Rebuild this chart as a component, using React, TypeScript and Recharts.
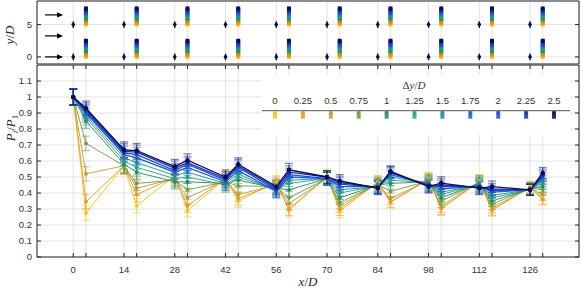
import React from "react";
import {
  CartesianGrid,
  ComposedChart,
  ErrorBar,
  Legend,
  Line,
  ReferenceArea,
  ReferenceLine,
  Scatter,
  XAxis,
  YAxis,
} from "recharts";

// measurement stations (turbine rows and the probe rakes behind them)
const X_POSITIONS = [0, 3.5, 14, 17.5, 28, 31.5, 42, 45.5, 56, 59.5, 70, 73.5, 84, 87.5, 98, 101.5, 112, 115.5, 126, 129.5];
const TURBINE_X = [0, 14, 28, 42, 56, 70, 84, 98, 112, 126];
const PROBE_X = [3.5, 17.5, 31.5, 45.5, 59.5, 73.5, 87.5, 101.5, 115.5, 129.5];
const TURBINE_ROWS = [0, 5];
const ARROW_ROWS = [0, 3.25, 6.5];
const ARROW_SPAN = [-7.8, -2.8];

const P_TICKS = [0, 0.1, 0.2, 0.3, 0.4, 0.5, 0.6, 0.7, 0.8, 0.9, 1, 1.1];
const YD_TICKS = [0, 5];

const DY_VALUES = [0, 0.25, 0.5, 0.75, 1, 1.25, 1.5, 1.75, 2, 2.25, 2.5];
const DY_LABELS = ["0", "0.25", "0.5", "0.75", "1", "1.25", "1.5", "1.75", "2", "2.25", "2.5"];
const DY_COLORS = [
  "#efc90a",
  "#f7901e",
  "#bc9a3a",
  "#6e9a3c",
  "#218c4f",
  "#23a082",
  "#1c87a6",
  "#1662c6",
  "#1c46dc",
  "#1a2bb8",
  "#0c0c4e",
];

// P_i / P_1 for each offset, one value per station
const P_DY0 = [1, 0.275, 0.57, 0.32, 0.51, 0.29, 0.49, 0.35, 0.47, 0.29, 0.51, 0.285, 0.47, 0.34, 0.49, 0.3, 0.475, 0.29, 0.44, 0.37];
const P_DY025 = [1, 0.345, 0.57, 0.39, 0.5, 0.32, 0.49, 0.365, 0.46, 0.3, 0.5, 0.3, 0.465, 0.345, 0.485, 0.305, 0.47, 0.295, 0.435, 0.36];
const P_DY05 = [1, 0.52, 0.57, 0.43, 0.49, 0.37, 0.48, 0.39, 0.45, 0.335, 0.49, 0.32, 0.46, 0.365, 0.48, 0.32, 0.47, 0.31, 0.43, 0.39];
const P_DY075 = [1, 0.71, 0.57, 0.46, 0.48, 0.42, 0.47, 0.445, 0.44, 0.37, 0.49, 0.34, 0.455, 0.41, 0.475, 0.35, 0.465, 0.33, 0.43, 0.42];
const P_DY1 = [1, 0.85, 0.58, 0.53, 0.47, 0.47, 0.46, 0.48, 0.43, 0.42, 0.49, 0.37, 0.45, 0.46, 0.47, 0.37, 0.46, 0.35, 0.425, 0.44];
const P_DY125 = [1, 0.87, 0.6, 0.56, 0.49, 0.5, 0.45, 0.5, 0.42, 0.46, 0.49, 0.4, 0.445, 0.48, 0.465, 0.39, 0.455, 0.37, 0.42, 0.46];
const P_DY15 = [1, 0.885, 0.62, 0.59, 0.51, 0.53, 0.46, 0.52, 0.41, 0.48, 0.49, 0.42, 0.44, 0.5, 0.46, 0.405, 0.45, 0.385, 0.42, 0.475];
const P_DY175 = [1, 0.9, 0.64, 0.62, 0.53, 0.56, 0.47, 0.54, 0.41, 0.5, 0.49, 0.44, 0.44, 0.515, 0.455, 0.425, 0.445, 0.405, 0.42, 0.49];
const P_DY2 = [1, 0.91, 0.65, 0.64, 0.54, 0.58, 0.48, 0.56, 0.42, 0.515, 0.49, 0.455, 0.435, 0.525, 0.45, 0.44, 0.44, 0.415, 0.42, 0.505];
const P_DY225 = [1, 0.92, 0.66, 0.655, 0.555, 0.59, 0.49, 0.57, 0.43, 0.53, 0.5, 0.465, 0.435, 0.53, 0.445, 0.45, 0.435, 0.425, 0.42, 0.515];
const P_DY25 = [1, 0.93, 0.67, 0.665, 0.565, 0.605, 0.5, 0.58, 0.44, 0.545, 0.5, 0.475, 0.43, 0.535, 0.44, 0.462, 0.43, 0.44, 0.42, 0.525];
const SERIES = [P_DY0, P_DY025, P_DY05, P_DY075, P_DY1, P_DY125, P_DY15, P_DY175, P_DY2, P_DY225, P_DY25];

// error bar half-length per station
const P_ERR = [0.05, 0.045, 0.05, 0.045, 0.045, 0.04, 0.045, 0.04, 0.04, 0.04, 0.04, 0.04, 0.04, 0.035, 0.04, 0.04, 0.04, 0.035, 0.035, 0.035];

const AXIS = "#262626";
const GRID = "#e3e3e3";
const FONT = "'Liberation Sans', Arial, sans-serif";
const SERIF = "'Liberation Serif', 'DejaVu Serif', serif";

const W = 581;
const LEFT = 37;
const RIGHT = 579;
const MAIN_TOP = 65;
const MAIN_BOTTOM = 257;
const TOP_TOP = 1;
const TOP_BOTTOM = 64;
const TICK = 4;

const rows = X_POSITIONS.map((x, j) => {
  const r: Record<string, number> = { x, err: P_ERR[j] };
  SERIES.forEach((s, i) => {
    r[`s${i}`] = s[j];
  });
  return r;
});

const turbineData = TURBINE_X.flatMap((x) => TURBINE_ROWS.map((y) => ({ x, y })));
const probeData = PROBE_X.flatMap((x) =>
  TURBINE_ROWS.flatMap((row) => DY_VALUES.map((dy, i) => ({ x, y: row + dy, c: DY_COLORS[i] })))
);

function mainXTick(props: any) {
  const { x, payload } = props;
  const v = payload.value;
  return (
    <g>
      <line x1={x} x2={x} y1={MAIN_BOTTOM} y2={MAIN_BOTTOM - TICK} stroke={AXIS} />
      <line x1={x} x2={x} y1={MAIN_TOP} y2={MAIN_TOP + TICK} stroke={AXIS} />
      {TURBINE_X.includes(v) && (
        <text x={x} y={272.5} textAnchor="middle" fontFamily={FONT} fontSize={9.5} fill="#333">
          {v}
        </text>
      )}
    </g>
  );
}

function mainYTick(props: any) {
  const { y, payload } = props;
  return (
    <g>
      <line x1={LEFT} x2={LEFT + TICK} y1={y} y2={y} stroke={AXIS} />
      <line x1={RIGHT} x2={RIGHT - TICK} y1={y} y2={y} stroke={AXIS} />
      <text x={LEFT - 5} y={y} dy="0.35em" textAnchor="end" fontFamily={FONT} fontSize={9.5} fill="#333">
        {String(payload.value)}
      </text>
    </g>
  );
}

function topXTick(props: any) {
  const { x } = props;
  return (
    <g>
      <line x1={x} x2={x} y1={TOP_TOP} y2={TOP_TOP + TICK} stroke={AXIS} />
      <line x1={x} x2={x} y1={TOP_BOTTOM} y2={TOP_BOTTOM - TICK} stroke={AXIS} />
    </g>
  );
}

function topYTick(props: any) {
  const { y, payload } = props;
  return (
    <g>
      <line x1={LEFT} x2={LEFT + TICK} y1={y} y2={y} stroke={AXIS} />
      <line x1={RIGHT} x2={RIGHT - TICK} y1={y} y2={y} stroke={AXIS} />
      <text x={LEFT - 5} y={y} dy="0.35em" textAnchor="end" fontFamily={FONT} fontSize={9.5} fill="#333">
        {String(payload.value)}
      </text>
    </g>
  );
}

function arrowShape(props: any) {
  const { x1, y1, x2, y2 } = props;
  return (
    <g>
      <line x1={x1} y1={y1} x2={x2 - 4} y2={y2} stroke="#000" strokeWidth={1.2} />
      <polygon points={`${x2},${y2} ${x2 - 6},${y2 - 2.6} ${x2 - 6},${y2 + 2.6}`} fill="#000" />
    </g>
  );
}

function turbineShape(props: any) {
  const { cx, cy } = props;
  return (
    <g>
      <line x1={cx} x2={cx} y1={cy - 3.3} y2={cy + 3.3} stroke="#0c0c4e" strokeWidth={1.4} />
      <circle cx={cx} cy={cy} r={1.8} fill="#0c0c4e" />
    </g>
  );
}

function probeShape(props: any) {
  const { cx, cy, payload } = props;
  return <rect x={cx - 2} y={cy - 2} width={4} height={4} fill={payload.c} />;
}

function DyLegend() {
  const step = 27.9;
  return (
    <svg width={308} height={60} style={{ display: "block" }}>
      <rect x={0} y={0} width={308} height={60} fill="#fff" />
      <text x={152} y={13.5} textAnchor="middle" fontFamily={SERIF} fontSize={11} fill="#333">
        Δ<tspan fontStyle="italic">y</tspan>/<tspan fontStyle="italic">D</tspan>
      </text>
      {DY_LABELS.map((l, i) => (
        <text key={l} x={13 + i * step} y={29.4} textAnchor="middle" fontFamily={FONT} fontSize={9.5} fill="#333">
          {l}
        </text>
      ))}
      <line x1={0} x2={308} y1={35.7} y2={35.7} stroke="#555" strokeWidth={1} />
      {DY_COLORS.map((c, i) => (
        <g key={c}>
          <rect x={11 + i * step} y={36.2} width={4} height={7.5} fill={c} opacity={0.85} />
          <line x1={13 + i * step} x2={13 + i * step} y1={36.2} y2={40} stroke={c} strokeWidth={1.5} />
        </g>
      ))}
    </svg>
  );
}

export default function App() {
  return (
    <div style={{ position: "absolute", left: 0, top: 0, width: W, height: 290, background: "#fff" }}>
      <div style={{ position: "absolute", left: 0, top: 0 }}>
        <ComposedChart width={W} height={290} data={rows} margin={{ top: MAIN_TOP, right: W - RIGHT, bottom: 0, left: 0 }}>
          <CartesianGrid stroke={GRID} />
          <XAxis
            type="number"
            dataKey="x"
            domain={[-10, 139.5]}
            ticks={X_POSITIONS}
            interval={0}
            height={290 - MAIN_BOTTOM}
            axisLine={false}
            tickLine={false}
            tick={mainXTick}
            allowDataOverflow
          />
          <YAxis
            type="number"
            domain={[0, 1.2]}
            ticks={P_TICKS}
            interval={0}
            width={LEFT}
            axisLine={false}
            tickLine={false}
            tick={mainYTick}
          />
          {SERIES.map((_, i) => (
            <Line
              key={i}
              type="linear"
              dataKey={`s${i}`}
              stroke={DY_COLORS[i]}
              strokeWidth={i >= 7 ? 1.3 : 0.9}
              dot={{ r: i >= 9 ? 2.3 : 1.9, fill: DY_COLORS[i], stroke: DY_COLORS[i], strokeWidth: 0 }}
              activeDot={false}
              isAnimationActive={false}
            >
              <ErrorBar
                dataKey="err"
                direction="y"
                width={4}
                stroke={DY_COLORS[i]}
                strokeWidth={1.2}
                strokeOpacity={0.5}
              />
            </Line>
          ))}
          <ReferenceArea x1={-10} x2={139.5} y1={0} y2={1.2} fill="none" stroke={AXIS} strokeWidth={1} ifOverflow="visible" />
          <Legend
            layout="horizontal"
            verticalAlign="middle"
            align="center"
            content={() => <DyLegend />}
            wrapperStyle={{ left: 262, top: 75, width: 308, height: 60 }}
          />
        </ComposedChart>
      </div>
      <svg width={W} height={290} style={{ position: "absolute", left: 0, top: 0, pointerEvents: "none" }}>
        <text transform="translate(15,128) rotate(-90)" textAnchor="middle" fontFamily={SERIF} fontStyle="italic" fontSize={13} fill="#262626">
          P<tspan fontSize={9} dy={3}>i</tspan>
          <tspan dy={-3} fontStyle="normal">/</tspan>P<tspan fontSize={9} dy={3} fontStyle="normal">1</tspan>
        </text>
        <text transform="translate(14,35) rotate(-90)" textAnchor="middle" fontFamily={SERIF} fontStyle="italic" fontSize={13} fill="#262626">
          y<tspan fontStyle="normal">/</tspan>D
        </text>
        <text x={308} y={286} textAnchor="middle" fontFamily={SERIF} fontStyle="italic" fontSize={13} fill="#262626">
          x<tspan fontStyle="normal">/</tspan>D
        </text>
      </svg>
      <div style={{ position: "absolute", left: 0, top: 0 }}>
        <ComposedChart width={W} height={66} margin={{ top: TOP_TOP, right: W - RIGHT, bottom: 66 - TOP_BOTTOM, left: 0 }}>
          <CartesianGrid stroke={GRID} />
          <XAxis
            type="number"
            dataKey="x"
            domain={[-10, 139.5]}
            ticks={X_POSITIONS}
            interval={0}
            height={0}
            axisLine={false}
            tickLine={false}
            tick={topXTick}
            allowDataOverflow
          />
          <YAxis
            type="number"
            dataKey="y"
            domain={[-1.1, 8.65]}
            ticks={YD_TICKS}
            interval={0}
            width={LEFT}
            axisLine={false}
            tickLine={false}
            tick={topYTick}
          />
          {ARROW_ROWS.map((a) => (
            <ReferenceLine
              key={a}
              segment={[
                { x: ARROW_SPAN[0], y: a },
                { x: ARROW_SPAN[1], y: a },
              ]}
              shape={arrowShape}
              ifOverflow="visible"
            />
          ))}
          <Scatter data={turbineData} dataKey="y" shape={turbineShape} isAnimationActive={false} />
          <Scatter data={probeData} dataKey="y" shape={probeShape} isAnimationActive={false} />
          <ReferenceArea x1={-10} x2={139.5} y1={-1.1} y2={8.65} fill="none" stroke={AXIS} strokeWidth={1} ifOverflow="visible" />
        </ComposedChart>
      </div>
    </div>
  );
}
